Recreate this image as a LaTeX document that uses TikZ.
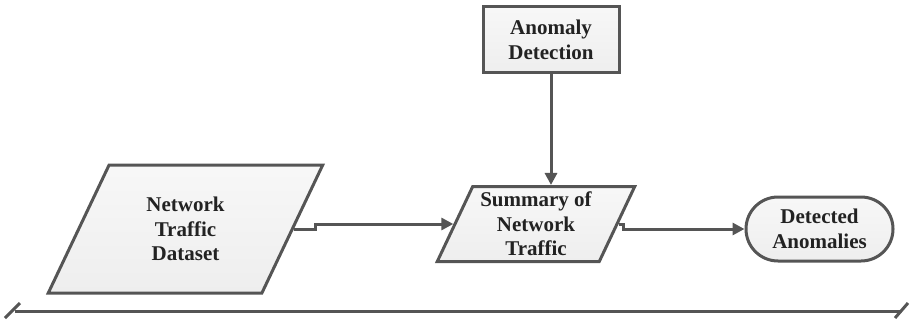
\documentclass[tikz,border=0pt]{standalone}
\usepackage{fontspec}
\setmainfont{Liberation Serif}
\usetikzlibrary{shapes.geometric,arrows.meta}
\definecolor{linegray}{HTML}{555555}
\definecolor{boxfill}{HTML}{EEEEEE}
\definecolor{textgray}{HTML}{222222}
\tikzset{
  base/.style={draw=linegray, line width=3pt, top color=white!97!black, bottom color=boxfill,
    align=center, inner sep=0pt, text=textgray,
    font=\fontsize{21}{24.5}\selectfont\bfseries},
  databox/.style={base, trapezium, trapezium left angle=64, trapezium right angle=116,
    trapezium stretches=true},
  procbox/.style={base, rectangle},
  termbox/.style={base, rectangle, rounded corners=32pt},
  flow/.style={draw=linegray, line width=3pt, -{Triangle[length=12pt,width=12pt]}},
  axisline/.style={draw=linegray, line width=3pt},
}
\begin{document}
\begin{tikzpicture}[x=1pt, y=-1pt]
  \useasboundingbox (0,0) rectangle (910,321);
  \node [databox, minimum width=275pt, minimum height=128pt] (dataset) at (185.5,229) {Network\\Traffic\\Dataset};
  \node [databox, minimum width=198pt, minimum height=75pt] (summary) at (536,224) {Summary of\\Network\\Traffic};
  \node [procbox, minimum width=136pt, minimum height=66pt] (detect) at (551,40) {Anomaly\\Detection};
  \node [termbox, minimum width=147pt, minimum height=64pt] (anomalies) at (819.5,229) {Detected\\Anomalies};
  \draw [flow] (dataset.east) -- ++(22,0) |- (summary.west);
  \draw [flow] (summary.east) -- ++(5,0) |- (anomalies.west);
  \draw [flow] (detect.south) -- (detect.south |- summary.north);
  % bottom line
  \draw [axisline] (15,311) -- (901,311);
  \draw [axisline] (5,318) -- (20,303);
  \draw [axisline] (895,318) -- (908,303);
\end{tikzpicture}
\end{document}
